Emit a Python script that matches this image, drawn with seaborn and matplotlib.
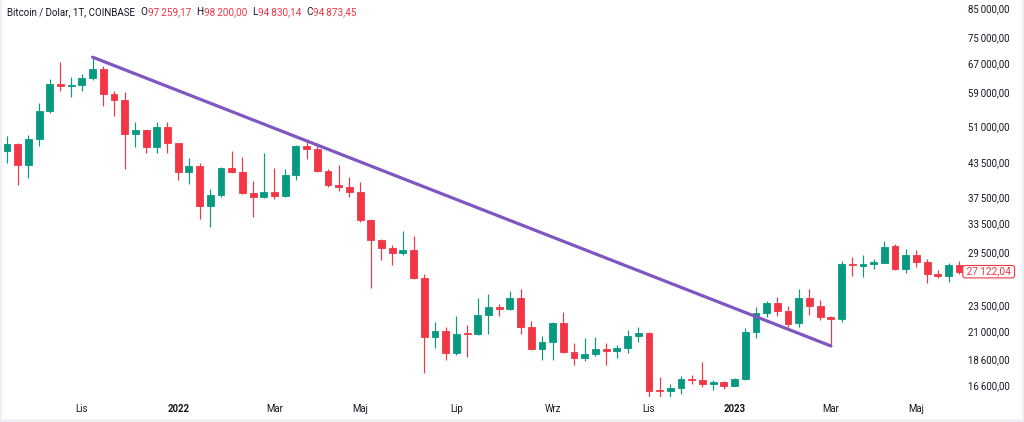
import numpy as np
import pandas as pd
import matplotlib
matplotlib.use("Agg")
import matplotlib.pyplot as plt
from matplotlib.ticker import NullLocator
from matplotlib.patches import Rectangle
import seaborn as sns

# ---------------- data ----------------
start_week = "2021-09-13"
n_weeks = 90

opens = [45750, 47100, 43000, 48120, 54370, 61160, 60570, 61000, 62810, 65260,
         58490, 56980, 49180, 50040, 46490, 50720, 47330, 41720, 42930, 36100,
         37860, 42460, 41800, 38140, 37530, 38260, 37650, 41180, 46760, 46150,
         41900, 39540, 39170, 38310, 33890, 31110, 30100, 29380, 29800, 26430,
         20450, 20980, 19070, 20780, 20690, 22480, 23280, 23100, 24200, 21370,
         19400, 19960, 21750, 19160, 18700, 18990, 19410, 19220, 19490, 20530,
         20820, 16280, 16200, 16410, 17050, 16990, 16650, 16820, 16530, 17070,
         20850, 22660, 23640, 22880, 21690, 24230, 23420, 22310, 22120, 28030,
         27840, 28030, 28210, 30350, 27440, 29200, 28340, 26820, 26610, 27950]
highs = [48830, 47350, 49030, 56330, 62590, 67220, 63150, 63920, 68700, 66110,
         59420, 59170, 51810, 50200, 51810, 51950, 47420, 44380, 43370, 38760,
         42650, 45750, 44640, 40180, 45300, 42460, 42330, 47000, 47980, 47420,
         42270, 43000, 40880, 40040, 34110, 31250, 30490, 32350, 31660, 26820,
         21810, 21370, 22420, 21530, 24200, 24590, 23580, 24990, 25160, 21900,
         20530, 21850, 22750, 19880, 20320, 20400, 19880, 19760, 21070, 21370,
         20930, 17170, 16700, 17290, 17340, 18340, 16970, 16910, 17100, 21250,
         23310, 23880, 24270, 23380, 25160, 25160, 23990, 22400, 28370, 28960,
         29140, 28700, 30990, 30530, 29920, 29800, 28610, 27320, 28210, 28450]
lows = [43440, 39490, 40650, 46750, 53840, 59420, 57800, 59420, 62230, 55590,
        53310, 42270, 46610, 45290, 45410, 45410, 40350, 39610, 34040, 32950,
        37530, 41680, 37980, 34330, 37360, 37100, 37430, 40350, 44130, 41830,
        39060, 38460, 37430, 33700, 25310, 28530, 27920, 29160, 26320, 17490,
        19490, 18480, 18880, 18740, 20650, 20710, 22380, 23000, 20710, 19300,
        18480, 18480, 19100, 18110, 18450, 18830, 18110, 18630, 19100, 20000,
        15740, 15760, 15740, 15970, 16650, 16480, 16250, 16300, 16500, 16970,
        20350, 22330, 22420, 21370, 21310, 22450, 22000, 19660, 21840, 26660,
        26480, 27420, 28140, 27320, 26940, 27690, 25800, 26380, 25900, 26900]
closes = [47100, 43000, 48120, 54370, 61160, 60570, 61000, 62810, 65260, 58490,
          56980, 49180, 50040, 46490, 50720, 47330, 41720, 42930, 36100, 37860,
          42460, 41800, 38140, 37530, 38260, 37650, 41180, 46760, 46150, 41900,
          39540, 39170, 38310, 33890, 31110, 30100, 29380, 29800, 26430, 20450,
          20980, 19070, 20740, 20690, 22480, 23240, 23100, 24200, 21370, 19400,
          19960, 21750, 19160, 18700, 18990, 19410, 19220, 19490, 20530, 20820,
          16180, 16200, 16410, 17050, 16970, 16650, 16820, 16530, 17070, 20850,
          22660, 23640, 22880, 21620, 24230, 23420, 22290, 22140, 28000, 27920,
          28070, 28300, 30210, 27440, 29160, 28340, 26820, 26580, 27950, 27122.04]

price_ticks = [85000, 75000, 67000, 59000, 51000, 43500, 37500, 33500, 29500,
               23500, 21000, 18600, 16600]
month_ticks = [(2021, 11), (2022, 1), (2022, 3), (2022, 5), (2022, 7), (2022, 9),
               (2022, 11), (2023, 1), (2023, 3), (2023, 5)]
month_labels = ["Lis", "2022", "Mar", "Maj", "Lip", "Wrz", "Lis", "2023", "Mar", "Maj"]

trend_start = "2021-11-08"   # anchored on that week's high
trend_end = "2023-03-06"     # anchored on that week's low

title_text = "Bitcoin / Dolar, 1T, COINBASE"
ohlc_letters = ["O", "H", "L", "C"]
ohlc_values = ["97\u2009259,17", "98\u2009200,00", "94\u2009830,14", "94\u2009873,45"]
last_price = 27122.04

# ---------------- style ----------------
sns.set_style("white")
plt.rcParams["font.family"] = ["Roboto", "DejaVu Sans"]

UP = "#089981"
DOWN = "#F23645"
TXT = "#131722"
PURPLE = "#7E57C2"
BORDER = "#EEF0F4"
FS = 6.9
TFS = 7.0
HFS = 7.2


def fmt(v):
    s = f"{v:,.2f}"
    ip, dp = s.split(".")
    return ip.replace(",", "\u2009") + "," + dp


dates = pd.date_range(start_week, periods=n_weeks, freq="W-MON")
df = pd.DataFrame({"date": dates, "open": opens, "high": highs,
                   "low": lows, "close": closes})
df["idx"] = np.arange(len(df))
df["up"] = df["close"] >= df["open"]

W, H = 1024, 422
fig = plt.figure(figsize=(W / 100, H / 100), dpi=100)
fig.patch.set_facecolor("white")
ax = fig.add_axes([2 / W, 25 / H, 961 / W, 397 / H])
ax.set_facecolor("white")

ax.set_yscale("log")
ax.set_ylim(15760, 88000)
ax.set_xlim(-0.467, 89.35)

colors = np.where(df["up"], UP, DOWN)
ax.vlines(df["idx"], df["low"], df["high"], colors=colors, linewidth=0.85, zorder=2)
body_lo = np.minimum(df["open"], df["close"])
body_h = np.abs(df["close"] - df["open"])
ax.bar(df["idx"], body_h, bottom=body_lo, width=0.64, color=colors,
       edgecolor=colors, linewidth=0.6, zorder=3)

# trend line
i0 = int(df.index[df["date"] == pd.Timestamp(trend_start)][0])
i1 = int(df.index[df["date"] == pd.Timestamp(trend_end)][0])
trend = pd.DataFrame({"x": [i0, i1], "y": [df.loc[i0, "high"], df.loc[i1, "low"]]})
sns.lineplot(data=trend, x="x", y="y", ax=ax, color=PURPLE, linewidth=2.3,
             zorder=4, solid_capstyle="round")

# axes decorations
for s in ax.spines.values():
    s.set_visible(False)
ax.yaxis.tick_right()
ax.yaxis.set_minor_locator(NullLocator())
ax.set_yticks(price_ticks)
ax.set_yticklabels([fmt(v) for v in price_ticks])
ax.tick_params(axis="y", length=0, pad=3.6, labelsize=FS, labelcolor=TXT)

xt = []
for (y, m) in month_ticks:
    xt.append(int(df.index[(df["date"].dt.year == y) & (df["date"].dt.month == m)][0]))
ax.set_xticks(xt)
ax.set_xticklabels(month_labels)
ax.tick_params(axis="x", length=0, pad=5.0, labelsize=FS, labelcolor=TXT)
for lab in ax.get_xticklabels():
    if lab.get_text().isdigit():
        lab.set_fontweight("bold")
ax.set_xlabel("")
ax.set_ylabel("")
ax.grid(False)

# last price label
ax.annotate(" " + fmt(last_price) + " ", xy=(1.0 + 1 / 961, last_price),
            xycoords=("axes fraction", "data"), ha="left", va="center",
            fontsize=FS + 0.4, color=DOWN, zorder=10, annotation_clip=False,
            bbox=dict(boxstyle="round,pad=0.12,rounding_size=0.25", fc="white",
                      ec=DOWN, lw=0.8))

# header: title, then O/H/L/C groups placed one after another
renderer = fig.canvas.get_renderer()
ty = 1 - 12 / H
fig.text(7 / W, ty, title_text, fontsize=TFS, color=TXT, va="center", ha="left")
x_px = 140
for l, v in zip(ohlc_letters, ohlc_values):
    tl = fig.text(x_px / W, ty, l, fontsize=HFS, color=TXT, va="center", ha="left")
    x_px = tl.get_window_extent(renderer).x1 + 0.5
    tv = fig.text(x_px / W, ty, v, fontsize=HFS, color=DOWN, va="center", ha="left")
    x_px = tv.get_window_extent(renderer).x1 + 5

# light frame of the screenshot
fig.add_artist(Rectangle((0, 0), 1, 3 / H, transform=fig.transFigure,
                         color=BORDER, lw=0, zorder=0))
fig.add_artist(Rectangle((0, 0), 2 / W, 1, transform=fig.transFigure,
                         color=BORDER, lw=0, zorder=0))
fig.add_artist(Rectangle((1 - 2 / W, 0), 2 / W, 1, transform=fig.transFigure,
                         color=BORDER, lw=0, zorder=0))

fig.savefig("out.png", dpi=100, facecolor="white")
